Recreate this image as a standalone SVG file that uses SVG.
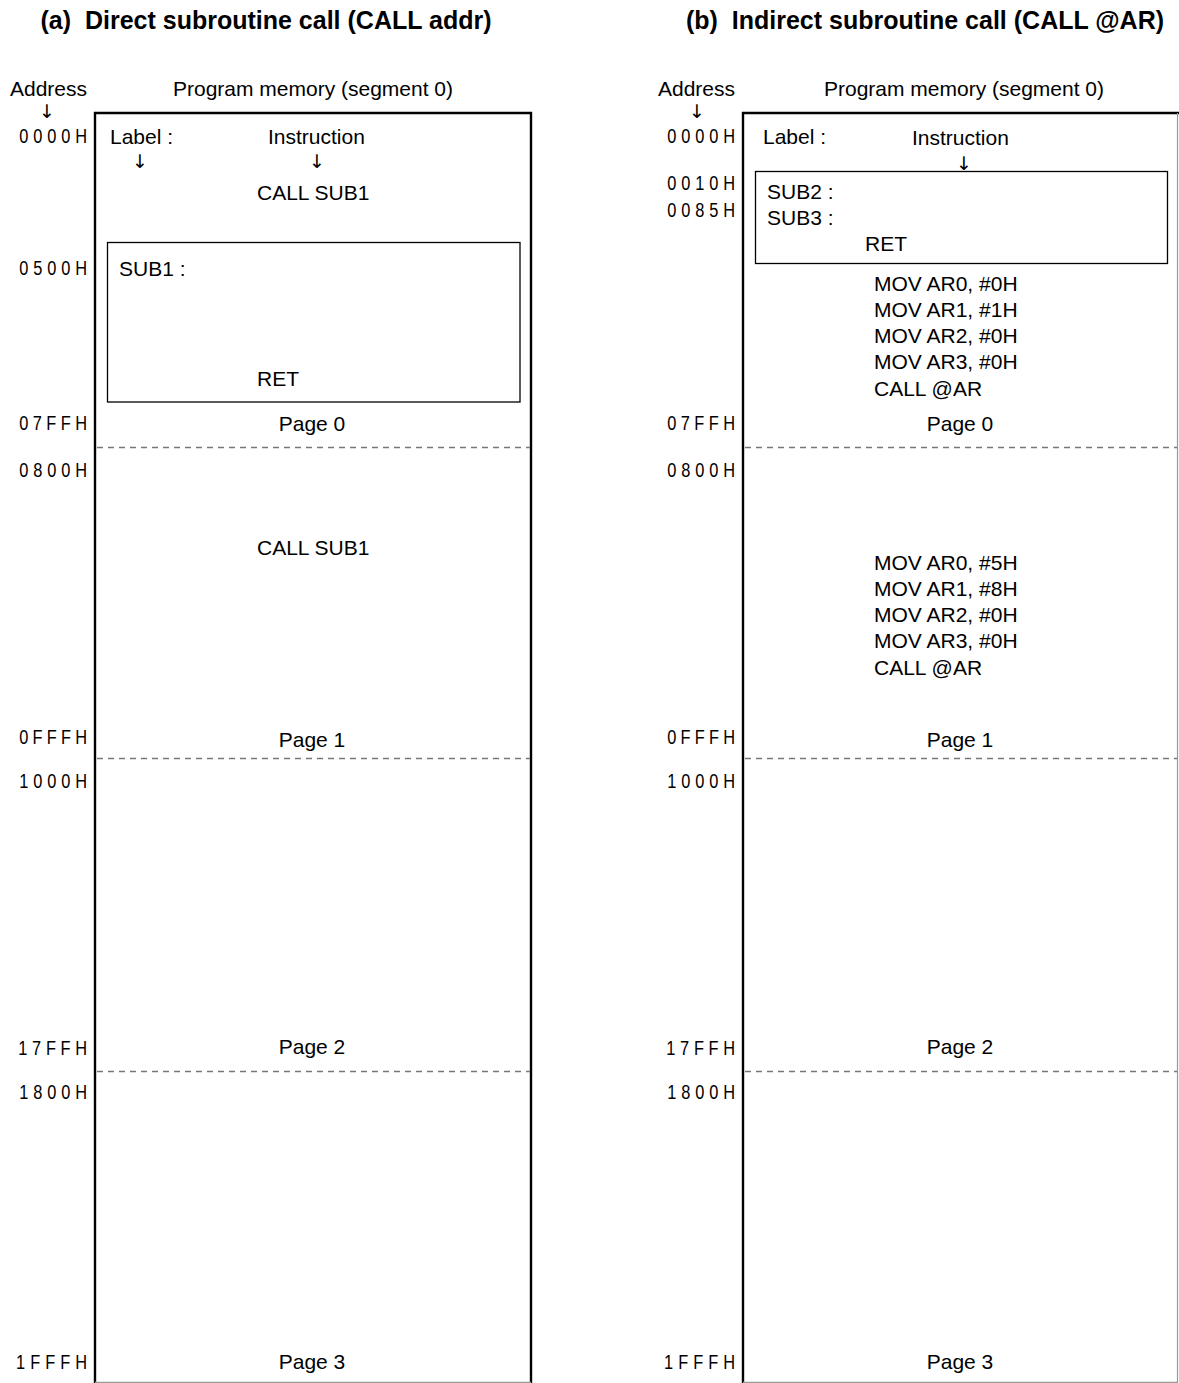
<svg xmlns="http://www.w3.org/2000/svg" width="1179" height="1383" viewBox="0 0 1179 1383">
<style>
text{font-family:"Liberation Sans",Arial,sans-serif;font-size:21px;fill:#000}
.title{font-size:25px;font-weight:bold}
.addr{font-size:21px;text-anchor:end}
.mid{text-anchor:middle}
.arr{font-family:"DejaVu Sans",sans-serif;font-size:19px;text-anchor:middle;fill:#000}
.frame{fill:none;stroke:#000;stroke-width:2.4}
.edge{fill:none;stroke:#999;stroke-width:1.2}
.dash{fill:none;stroke:#777;stroke-width:1.3;stroke-dasharray:6 5}
.box{fill:none;stroke:#000;stroke-width:1.3}
</style>
<rect width="1179" height="1383" fill="#fff"/>
<g id="panel-a">
<text class="title mid" x="266" y="29">(a)&#160; Direct subroutine call (CALL addr)</text>
<text x="10" y="96">Address</text>
<text class="arr" x="47" y="118">↓</text>
<text class="mid" x="313" y="96">Program memory (segment 0)</text>
<path class="frame" d="M95,1383V113H531V1383"/>
<path class="edge" d="M95,1382.4H531"/>
<path class="dash" d="M97,447.5H530M97,758.5H530M97,1071.5H530"/>
<rect class="box" x="107.5" y="242.5" width="412.5" height="159.5"/>
<g id="a-addresses">
<text class="addr" transform="translate(87,143) scale(0.78,1)" textLength="87" lengthAdjust="spacing">0000H</text>
<text class="addr" transform="translate(87,275) scale(0.78,1)" textLength="87" lengthAdjust="spacing">0500H</text>
<text class="addr" transform="translate(87,430) scale(0.78,1)" textLength="87" lengthAdjust="spacing">07FFH</text>
<text class="addr" transform="translate(87,477) scale(0.78,1)" textLength="87" lengthAdjust="spacing">0800H</text>
<text class="addr" transform="translate(87,744) scale(0.78,1)" textLength="87" lengthAdjust="spacing">0FFFH</text>
<text class="addr" transform="translate(87,788) scale(0.78,1)" textLength="87" lengthAdjust="spacing">1000H</text>
<text class="addr" transform="translate(87,1055) scale(0.78,1)" textLength="88" lengthAdjust="spacing">17FFH</text>
<text class="addr" transform="translate(87,1099) scale(0.78,1)" textLength="87" lengthAdjust="spacing">1800H</text>
<text class="addr" transform="translate(87,1369) scale(0.78,1)" textLength="91" lengthAdjust="spacing">1FFFH</text>
</g>
<text x="110" y="144">Label :</text>
<text x="268" y="144">Instruction</text>
<text class="arr" x="140" y="168">↓</text>
<text class="arr" x="317" y="168">↓</text>
<text x="257" y="200">CALL SUB1</text>
<text x="119" y="276">SUB1 :</text>
<text x="257" y="386">RET</text>
<text class="mid" x="312" y="431">Page 0</text>
<text x="257" y="555">CALL SUB1</text>
<text class="mid" x="312" y="747">Page 1</text>
<text class="mid" x="312" y="1054">Page 2</text>
<text class="mid" x="312" y="1369">Page 3</text>
</g>
<g id="panel-b">
<text class="title mid" x="925" y="29">(b)&#160; Indirect subroutine call (CALL @AR)</text>
<text x="658" y="96">Address</text>
<text class="arr" x="697" y="118">↓</text>
<text class="mid" x="964" y="96">Program memory (segment 0)</text>
<path class="frame" d="M743,1383V113H1179"/>
<path class="edge" d="M1177.5,113V1383M743,1382.4H1178"/>
<path class="dash" d="M745,447.5H1177M745,758.5H1177M745,1071.5H1177"/>
<rect class="box" x="755.5" y="171.5" width="412" height="92"/>
<g id="b-addresses">
<text class="addr" transform="translate(735,143) scale(0.78,1)" textLength="87" lengthAdjust="spacing">0000H</text>
<text class="addr" transform="translate(735,190) scale(0.78,1)" textLength="87" lengthAdjust="spacing">0010H</text>
<text class="addr" transform="translate(735,217) scale(0.78,1)" textLength="87" lengthAdjust="spacing">0085H</text>
<text class="addr" transform="translate(735,430) scale(0.78,1)" textLength="87" lengthAdjust="spacing">07FFH</text>
<text class="addr" transform="translate(735,477) scale(0.78,1)" textLength="87" lengthAdjust="spacing">0800H</text>
<text class="addr" transform="translate(735,744) scale(0.78,1)" textLength="87" lengthAdjust="spacing">0FFFH</text>
<text class="addr" transform="translate(735,788) scale(0.78,1)" textLength="87" lengthAdjust="spacing">1000H</text>
<text class="addr" transform="translate(735,1055) scale(0.78,1)" textLength="88" lengthAdjust="spacing">17FFH</text>
<text class="addr" transform="translate(735,1099) scale(0.78,1)" textLength="87" lengthAdjust="spacing">1800H</text>
<text class="addr" transform="translate(735,1369) scale(0.78,1)" textLength="91" lengthAdjust="spacing">1FFFH</text>
</g>
<text x="763" y="144">Label :</text>
<text x="912" y="145">Instruction</text>
<text class="arr" x="964" y="170">↓</text>
<text x="767" y="199">SUB2 :</text>
<text x="767" y="225">SUB3 :</text>
<text x="865" y="251">RET</text>
<text x="874" y="291">MOV AR0, #0H</text>
<text x="874" y="317">MOV AR1, #1H</text>
<text x="874" y="343">MOV AR2, #0H</text>
<text x="874" y="369">MOV AR3, #0H</text>
<text x="874" y="396">CALL @AR</text>
<text class="mid" x="960" y="431">Page 0</text>
<text x="874" y="570">MOV AR0, #5H</text>
<text x="874" y="596">MOV AR1, #8H</text>
<text x="874" y="622">MOV AR2, #0H</text>
<text x="874" y="648">MOV AR3, #0H</text>
<text x="874" y="675">CALL @AR</text>
<text class="mid" x="960" y="747">Page 1</text>
<text class="mid" x="960" y="1054">Page 2</text>
<text class="mid" x="960" y="1369">Page 3</text>
</g>
</svg>
